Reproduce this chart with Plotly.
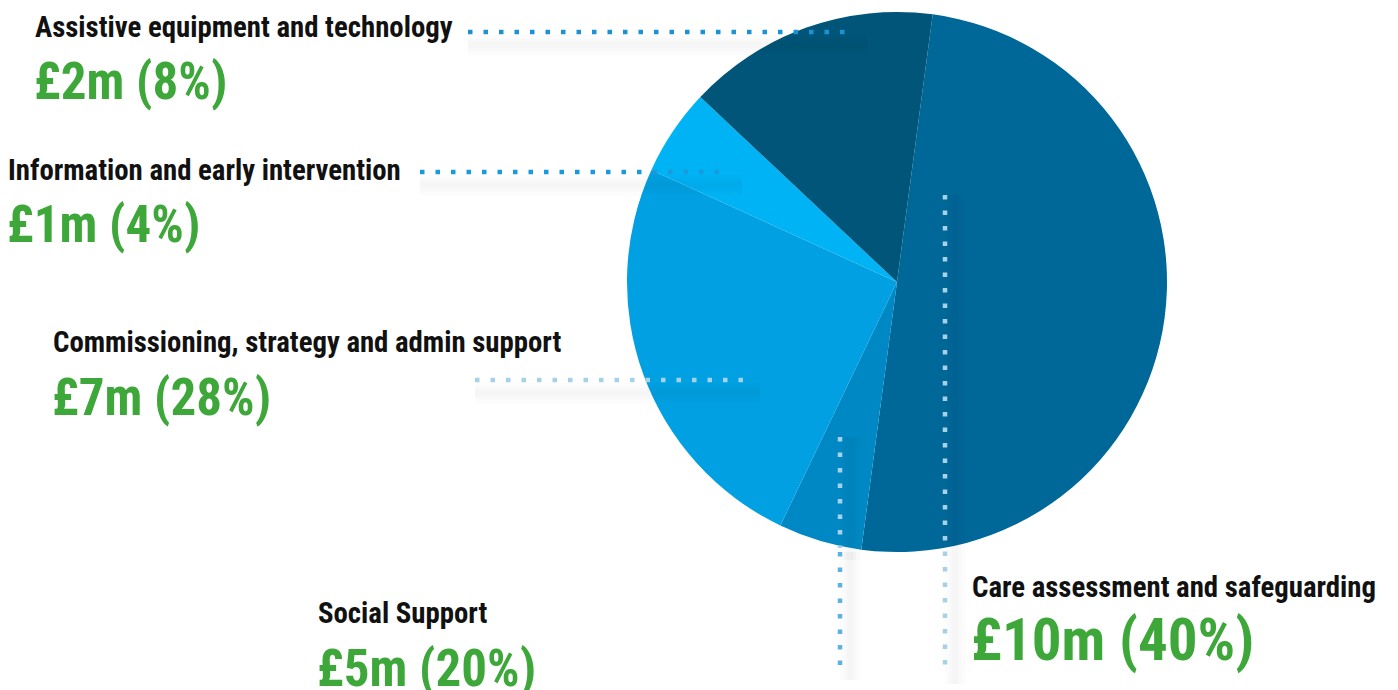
import plotly.graph_objects as go

# the page body adds an 8px margin, so the figure is drawn 8px smaller
OFF = 8
W, H = 1398 - OFF, 690 - OFF

# spending categories, in clockwise order from the top of the pie
categories = [
    "Care assessment and safeguarding",
    "Social Support",
    "Commissioning, strategy and admin support",
    "Information and early intervention",
    "Assistive equipment and technology",
]
amounts = ["£10m", "£5m", "£7m", "£1m", "£2m"]
shares = [40, 20, 28, 4, 8]
# slice sizes as drawn in the picture (%)
slice_sizes = [50.0, 5.0, 24.7, 5.2, 15.1]
slice_colors = ["#006898", "#0088c4", "#00a0e2", "#00b3f4", "#005579"]

FONT = "Roboto Condensed, DejaVu Sans Condensed, sans-serif"
GREEN = "#3ea73a"


def px(x):
    return (x - OFF) / W


def py(y):
    return 1 - (y - OFF) / H


fig = go.Figure()
fig.add_trace(go.Pie(
    labels=categories,
    values=slice_sizes,
    sort=False,
    direction="clockwise",
    rotation=7.6,
    marker=dict(colors=slice_colors, line=dict(width=0)),
    textinfo="none",
    hoverinfo="label+percent",
    showlegend=False,
    domain=dict(x=[px(627), px(1167)], y=[py(552), py(12)]),
))

# label placement: left x, title centre y, value centre y, value size
label_pos = {
    "Care assessment and safeguarding": (972, 587, 639, 59),
    "Social Support": (318, 613, 668, 51),
    "Commissioning, strategy and admin support": (53, 342, 397, 51),
    "Information and early intervention": (8, 170, 225, 51),
    "Assistive equipment and technology": (35, 27, 81, 51),
}

annotations = []
for cat, amt, sh in zip(categories, amounts, shares):
    x0, ty, vy, vs = label_pos[cat]
    annotations.append(dict(
        x=px(x0 - 2), y=py(ty), xref="paper", yref="paper",
        xanchor="left", yanchor="middle", showarrow=False,
        text=f"<b>{cat}</b>",
        font=dict(family=FONT, size=28.8, color="#111111"),
    ))
    annotations.append(dict(
        x=px(x0 - 3), y=py(vy), xref="paper", yref="paper",
        xanchor="left", yanchor="middle", showarrow=False,
        text=f"<b>{amt} ({sh}%)</b>",
        font=dict(family=FONT, size=vs, color=GREEN),
    ))

# dotted leader lines (x0, y0, x1, y1, colour)
leaders = [
    (468, 32, 855, 32, "#1b93d2"),
    (420, 172, 730, 172, "#1b9ad9"),
    (475, 380, 748, 380, "#a6d2e7"),
    (840, 437, 840, 548, "#a6d2e7"),
    (840, 552, 840, 668, "#5ab3e0"),
    (945, 195, 945, 672, "#a6d2e7"),
]

shapes = []
for x0, y0, x1, y1, col in leaders:
    # soft shadow made of a few faint strokes
    if y0 == y1:
        sx0, sy0, sx1, sy1 = x0, y0 + 13, x1 + 12, y1 + 13
    else:
        sx0, sy0, sx1, sy1 = x0 + 10, y0, x1 + 10, y1 + 12
    for w in (20, 13, 7):
        shapes.append(dict(
            type="line", xref="paper", yref="paper", layer="above",
            x0=px(sx0), y0=py(sy0), x1=px(sx1), y1=py(sy1),
            line=dict(color="rgba(0,0,0,0.013)", width=w),
        ))
    shapes.append(dict(
        type="line", xref="paper", yref="paper", layer="above",
        x0=px(x0), y0=py(y0), x1=px(x1), y1=py(y1),
        line=dict(color=col, width=4.5, dash="4.5px,11px"),
    ))

fig.update_layout(
    width=W, height=H,
    margin=dict(l=0, r=0, t=0, b=0),
    paper_bgcolor="white",
    plot_bgcolor="white",
    annotations=annotations,
    shapes=shapes,
)

fig.write_html("out.html")
